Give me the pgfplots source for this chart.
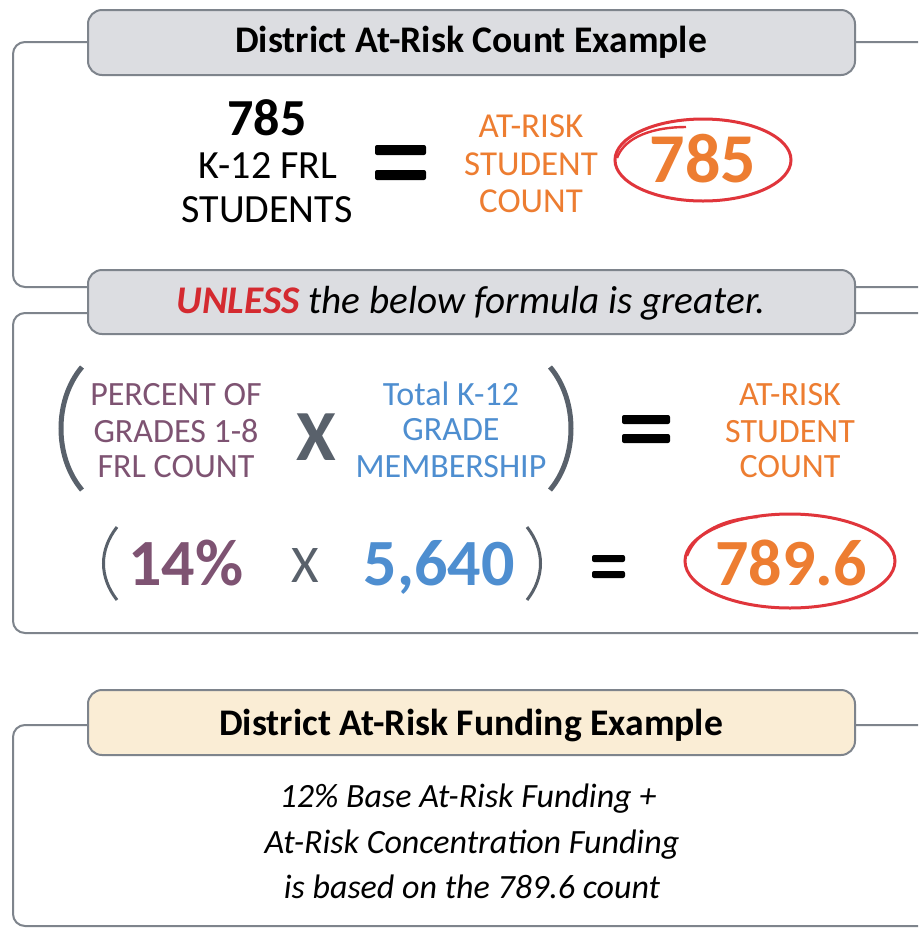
\documentclass[border=0pt]{standalone}
\usepackage{fontspec}
\setmainfont{Carlito}
\usepackage{xcolor}
\usepackage{tikz}
\usepackage{pgfplots}
\pgfplotsset{compat=1.18}

\definecolor{frame}{HTML}{7E848C}
\definecolor{hdrgray}{HTML}{DCDDE1}
\definecolor{hdrcream}{HTML}{FAEDD5}
\definecolor{orng}{HTML}{ED7D31}
\definecolor{ring}{HTML}{E0353B}
\definecolor{unless}{HTML}{D42A30}
\definecolor{purp}{HTML}{7E5372}
\definecolor{blu}{HTML}{4E8ED0}
\definecolor{slate}{HTML}{59616B}

\newcommand{\fs}[1]{\fontsize{#1}{1.2\dimexpr#1pt\relax}\selectfont}

\begin{document}
\begin{tikzpicture}
\begin{axis}[
  scale only axis, width=459pt, height=464pt,
  xmin=0, xmax=918, ymin=0, ymax=928, y dir=reverse,
  hide axis, clip=false]
% page
\fill[white] (axis cs:0,0) rectangle (axis cs:918,928);

% outer frames, open on the right
\draw[frame, line width=1pt, rounded corners=6pt]
  (axis cs:918,42) -- (axis cs:13,42) -- (axis cs:13,287) -- (axis cs:918,287);
\draw[frame, line width=1pt, rounded corners=6pt]
  (axis cs:918,313) -- (axis cs:13,313) -- (axis cs:13,633) -- (axis cs:918,633);
\draw[frame, line width=1pt, rounded corners=6pt]
  (axis cs:918,725) -- (axis cs:13,725) -- (axis cs:13,926) -- (axis cs:918,926);

% header tabs
\draw[frame, fill=hdrgray, line width=1pt, rounded corners=7pt]
  (axis cs:88,10) rectangle (axis cs:855,75);
\draw[frame, fill=hdrgray, line width=1pt, rounded corners=7pt]
  (axis cs:88,270) rectangle (axis cs:855,334);
\draw[frame, fill=hdrcream, line width=1pt, rounded corners=7pt]
  (axis cs:88,690) rectangle (axis cs:855,755);

\node[anchor=base] at (axis cs:471,52) {\fs{18.8}\bfseries District At-Risk Count Example};
\node[anchor=base] at (axis cs:471,313) {\fs{19.6}\itshape\textcolor{unless}{\bfseries UNLESS} the below formula is greater.};
\node[anchor=base] at (axis cs:471,735) {\fs{18.8}\bfseries District At-Risk Funding Example};

% --- count block
\node[anchor=base] at (axis cs:267,135) {\fs{26}\bfseries 785};
\node[anchor=base] at (axis cs:268,178) {\fs{20}K-12 FRL};
\node[anchor=base] at (axis cs:267,222) {\fs{20}STUDENTS};
\fill[black, rounded corners=1pt] (axis cs:375,145) rectangle (axis cs:426,155);
\fill[black, rounded corners=1pt] (axis cs:375,170) rectangle (axis cs:426,180);
\node[anchor=base, text=orng] at (axis cs:531,137) {\fs{17.5}AT-RISK};
\node[anchor=base, text=orng] at (axis cs:531,175) {\fs{17.5}STUDENT};
\node[anchor=base, text=orng] at (axis cs:531,212) {\fs{17.5}COUNT};
\node[anchor=base, text=orng] at (axis cs:703,182) {\fs{35}\bfseries 785};
\draw[ring, line width=1.5pt] (axis cs:703,160) ellipse [x radius=44pt, y radius=20.5pt];
\draw[ring, line width=1.2pt] (axis cs:617,158) .. controls (axis cs:625,136) and (axis cs:655,127) .. (axis cs:686,127);

% --- formula block
\draw[slate, line width=2.5pt] (axis cs:82,367) .. controls (axis cs:54,400) and (axis cs:54,457) .. (axis cs:82,490);
\draw[slate, line width=2.5pt] (axis cs:550,367) .. controls (axis cs:578,400) and (axis cs:578,457) .. (axis cs:550,490);
\node[anchor=base, text=purp] at (axis cs:176,405) {\fs{17}PERCENT OF};
\node[anchor=base, text=purp] at (axis cs:176,442) {\fs{17}GRADES 1-8};
\node[anchor=base, text=purp] at (axis cs:176,477) {\fs{17}FRL COUNT};
\node[anchor=base, text=slate] at (axis cs:316,460) {\fs{36}\bfseries X};
\node[anchor=base, text=blu] at (axis cs:451,405) {\fs{17}Total K-12};
\node[anchor=base, text=blu] at (axis cs:451,440) {\fs{17}GRADE};
\node[anchor=base, text=blu] at (axis cs:451,477) {\fs{17}MEMBERSHIP};
\fill[black, rounded corners=1pt] (axis cs:622,415) rectangle (axis cs:670,424);
\fill[black, rounded corners=1pt] (axis cs:622,434) rectangle (axis cs:670,443);
\node[anchor=base, text=orng] at (axis cs:790,405) {\fs{17}AT-RISK};
\node[anchor=base, text=orng] at (axis cs:790,442) {\fs{17}STUDENT};
\node[anchor=base, text=orng] at (axis cs:790,477) {\fs{17}COUNT};

% --- numbers row
\draw[slate, line width=1.5pt] (axis cs:117,527) .. controls (axis cs:99,550) and (axis cs:99,577) .. (axis cs:117,600);
\draw[slate, line width=1.5pt] (axis cs:527,527) .. controls (axis cs:545,550) and (axis cs:545,577) .. (axis cs:527,600);
\node[anchor=base, text=purp] at (axis cs:186,585) {\fs{33}\bfseries 14\%};
\node[anchor=base, text=slate] at (axis cs:305,582) {\fs{26.5}X};
\node[anchor=base, text=blu] at (axis cs:439,585) {\fs{33}\bfseries 5,640};
\fill[black, rounded corners=1pt] (axis cs:592,555) rectangle (axis cs:625,562);
\fill[black, rounded corners=1pt] (axis cs:592,571) rectangle (axis cs:625,578);
\node[anchor=base, text=orng] at (axis cs:791,585) {\fs{33}\bfseries 789.6};
\draw[ring, line width=1.5pt] (axis cs:790,561) ellipse [x radius=52.5pt, y radius=23.5pt];
\draw[ring, line width=1.2pt] (axis cs:687,556) .. controls (axis cs:696,531) and (axis cs:726,518) .. (axis cs:758,517);

% --- funding block
\node[anchor=base] at (axis cs:468,807) {\fs{17}\itshape 12\% Base At-Risk Funding +};
\node[anchor=base] at (axis cs:472,853) {\fs{17}\itshape At-Risk Concentration Funding};
\node[anchor=base] at (axis cs:472,898) {\fs{17}\itshape is based on the 789.6 count};

\path (axis cs:0,0) rectangle (axis cs:918,928);
\end{axis}
\end{tikzpicture}
\end{document}
